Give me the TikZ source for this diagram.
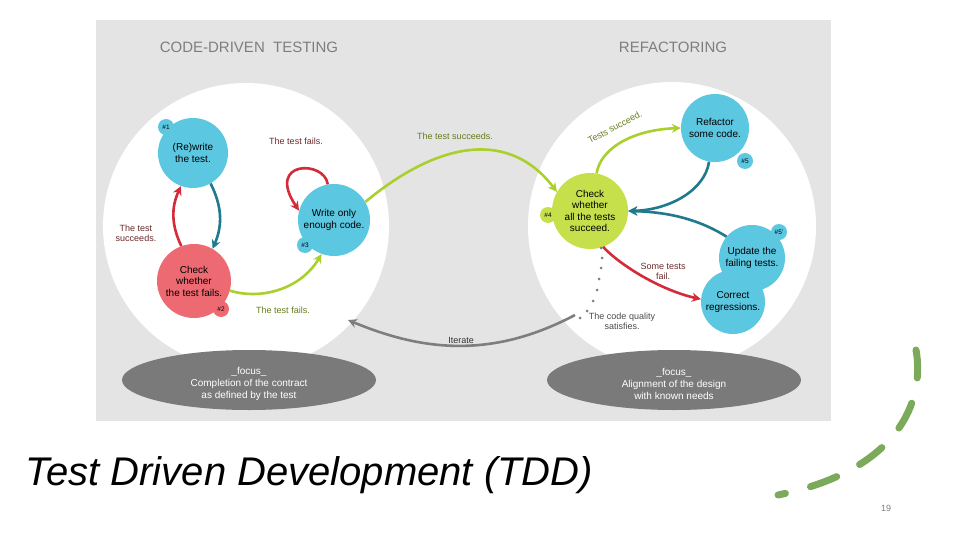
\documentclass[tikz,border=0pt]{standalone}
\usepackage{fontspec}
\setmainfont{Liberation Sans}
\usetikzlibrary{arrows.meta,shapes.geometric}
\definecolor{pan}{HTML}{E4E4E4}
\definecolor{bl}{HTML}{5CC7E0}
\definecolor{rd}{HTML}{EE6A72}
\definecolor{gr}{HTML}{C6E04C}
\definecolor{ared}{HTML}{D42A3A}
\definecolor{ateal}{HTML}{1E7A8C}
\definecolor{agr}{HTML}{A9D02C}
\definecolor{agy}{HTML}{7E7E7E}
\definecolor{ell}{HTML}{7A7A7A}
\definecolor{lbl}{HTML}{6A2A2A}
\begin{document}
\begin{tikzpicture}[x=1pt,y=-1pt,
  st/.style={circle,minimum size=#1,inner sep=0pt,align=center,font=\fontsize{10}{11.5}\selectfont},
  badge/.style={circle,minimum size=16pt,inner sep=0pt,font=\fontsize{6.5}{6.5}\selectfont},
  arr/.style={line width=2.6pt,-{Stealth[length=9pt,width=9pt]}},
  lab/.style={font=\fontsize{9}{10}\selectfont,align=center}]
\useasboundingbox (0,0) rectangle (960,540);
\fill[white] (0,0) rectangle (960,540);
\fill[pan] (96,20) rectangle (831,421);
\fill[white] (246,226) circle (143);
\fill[white] (672,226) circle (144);
\node[ellipse,fill=ell,minimum width=254pt,minimum height=60pt,inner sep=0pt] (e1) at (249,380) {};
\node[ellipse,fill=ell,minimum width=254pt,minimum height=60pt,inner sep=0pt] (e2) at (674,380) {};
\node[text=white,align=center,font=\fontsize{10}{12}\selectfont] (t1) at (249,384) {\_focus\_\\Completion of the contract\\as defined by the test};
\node[text=white,align=center,font=\fontsize{10}{12}\selectfont] (t2) at (674,384) {\_focus\_\\Alignment of the design\\with known needs};
\node[text=agy,font=\fontsize{15}{15}\selectfont] (h1) at (249,47) {CODE-DRIVEN\ \ TESTING};
\node[text=agy,font=\fontsize{15}{15}\selectfont] (h2) at (673,47) {REFACTORING};
% states
\node[st=70pt,fill=bl] (n1) at (193,153) {(Re)write\\the test.};
\node[st=74pt,fill=rd] (n2) at (194,281) {Check\\whether\\the test fails.};
\node[st=72pt,fill=bl] (n3) at (334,220) {Write only\\enough code.};
\node[st=76pt,fill=gr] (n4) at (590,211) {Check\\whether\\all the tests\\succeed.};
\node[st=68pt,fill=bl] (n5) at (715,128) {Refactor\\some code.};
\node[st=64pt,fill=bl] (n7) at (733,302) {Correct\\regressions.};
\node[st=66pt,fill=bl] (n6) at (752,258) {Update the\\failing tests.};
% badges
\node[badge,fill=bl] (b1) at (166,127) {\#1};
\node[badge,fill=rd] (b2) at (221,309) {\#2};
\node[badge,fill=bl] (b3) at (305,245) {\#3};
\node[badge,fill=gr] (b4) at (548,215) {\#4};
\node[badge,fill=bl] (b5) at (745,161) {\#5};
\node[badge,fill=bl] (b6) at (779,232) {\#5'};
% arrows
\draw[arr,ared] (n2.110) to[bend left=25] (n1.250);
\draw[arr,ateal] (n1.-60) to[bend left=25] (n2.60);
\draw[arr,ared] (n3.100) .. controls (325,160) and (265,160) .. (n3.165);
\draw[arr,agr] (n2.-15) .. controls (260,300) and (300,290) .. (n3.-110);
\draw[arr,agr] (n3.30) .. controls (440,140) and (510,130) .. (n4.150);
\draw[arr,agr] (n4.80) .. controls (600,150) and (630,130) .. (n5.180);
\draw[arr,ateal] (n5.-100) .. controls (705,190) and (670,210) .. (n4.east);
\draw[arr,ateal] (n6.140) .. controls (700,220) and (670,212) .. (n4.east);
\draw[arr,ared] (n4.-70) .. controls (620,265) and (660,290) .. (n7.175);
\coordinate (g0) at (575,315);
\draw[arr,agy] (g0) .. controls (490,360) and (420,350) .. (348,320);
\foreach \p in {(601,248),(602,258),(601,268),(599,279),(597,290),(593,301),(587,311),(580,318)} \fill[agy] \p circle (1.5);
% labels
\node[lab,text=lbl] (l1) at (296,141) {The test fails.};
\node[lab,text=lbl] (l2) at (136,233) {The test\\succeeds.};
\node[lab,text=agr!60!black] (l3) at (283,310) {The test fails.};
\node[lab,text=agr!60!black] (l4) at (455,136) {The test succeeds.};
\node[lab,text=agr!60!black,rotate=28] (l5) at (615,127) {Tests succeed.};
\node[lab,text=lbl] (l6) at (663,271) {Some tests\\fail.};
\node[lab,text=black!70] (l7) at (622,321) {The code quality\\satisfies.};
\node[lab,text=black!80] (l8) at (461,340) {Iterate};
% title
\node[anchor=west,font=\itshape\fontsize{40}{42}\selectfont] (tt) at (22,475) {Test Driven Development (TDD)};
\node[text=agy,font=\fontsize{9}{9}\selectfont] (pg) at (886,508) {19};
\coordinate (d0) at (916,350);
\coordinate (d2) at (778,495);
\draw[color={rgb,255:red,122;green,170;blue,90},line width=7pt,line cap=round,dash pattern=on 28pt off 26pt]
  (d0) .. controls (925,400) and (900,470) .. (d2);
\end{tikzpicture}
\end{document}
